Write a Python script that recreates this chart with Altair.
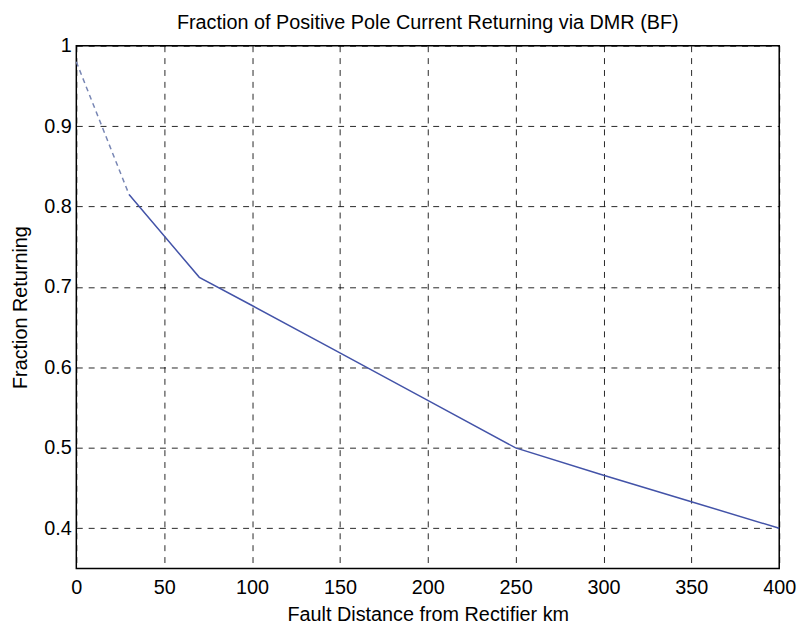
import altair as alt
import pandas as pd

# Solid (computed) curve
dist_solid = [30, 70, 100, 150, 200, 250, 300, 350, 400]
frac_solid = [0.815, 0.712, 0.677, 0.618, 0.559, 0.5, 0.466, 0.433, 0.4]

# Dashed (extrapolated) segment
dist_dash = [0, 30]
frac_dash = [0.98, 0.815]

x_ticks = [0, 50, 100, 150, 200, 250, 300, 350, 400]
y_ticks = [0.4, 0.5, 0.6, 0.7, 0.8, 0.9, 1.0]

df_solid = pd.DataFrame({"dist": dist_solid, "frac": frac_solid})
df_dash = pd.DataFrame({"dist": dist_dash, "frac": frac_dash})

FONT = "Liberation Sans, Arial, sans-serif"

x_enc = alt.X(
    "dist:Q",
    scale=alt.Scale(domain=[0, 400], nice=False, zero=False),
    axis=alt.Axis(
        values=x_ticks,
        title="Fault Distance from Rectifier km",
        labelPadding=9,
        titlePadding=8,
        labelFlush=False,
    ),
)
y_enc = alt.Y(
    "frac:Q",
    scale=alt.Scale(domain=[0.35, 1.0], nice=False, zero=False),
    axis=alt.Axis(
        values=y_ticks,
        format=".1~f",
        title="Fraction Returning",
        labelPadding=5,
        titlePadding=14,
        labelFlush=False,
    ),
)

solid = alt.Chart(df_solid).mark_line(color="#4353a8", strokeWidth=1.5).encode(
    x=x_enc, y=y_enc
)
dashed = alt.Chart(df_dash).mark_line(
    color="#7886b4", strokeWidth=1.5, strokeDash=[5, 4]
).encode(x=x_enc, y=y_enc)

chart = (
    alt.layer(dashed, solid)
    .properties(
        width=710,
        height=528,
        autosize=alt.AutoSizeParams(type="none"),
        padding={"left": 69, "top": 35, "right": 22, "bottom": 56},
        title=alt.TitleParams(
            "Fraction of Positive Pole Current Returning via DMR (BF)",
            fontSize=20,
            font=FONT,
            fontWeight="normal",
            color="black",
            frame="group",
            offset=11,
            dy=8,
        ),
    )
    .configure(background="white")
    .configure_view(stroke="black", strokeWidth=1.5)
    .configure_axis(
        domain=False,
        ticks=False,
        grid=True,
        gridColor="black",
        gridDash=[6, 6],
        gridWidth=1,
        gridOpacity=0.85,
        labelFont=FONT,
        labelFontSize=20,
        labelColor="black",
        titleFont=FONT,
        titleFontSize=20,
        titleFontWeight="normal",
        titleColor="black",
    )
)

chart.save("out.html", embed_options={"renderer": "svg", "actions": False})
